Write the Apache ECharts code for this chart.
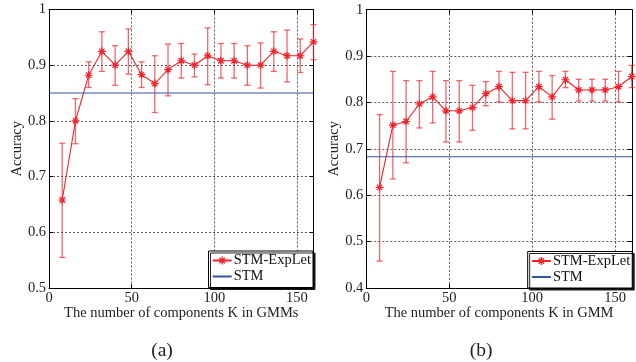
<!DOCTYPE html>
<html><head><meta charset="utf-8">
<script src="https://cdn.jsdelivr.net/npm/echarts@6/dist/echarts.min.js"></script>
<style>html,body{margin:0;padding:0;background:#fff}#c{width:636px;height:362px}</style>
</head><body><div id="c"></div>
<script>
// ---- data ----
const kValues = [8,16,24,32,40,48,56,64,72,80,88,96,104,112,120,128,136,144,152,160];
const accA     = [0.658,0.800,0.882,0.925,0.900,0.925,0.883,0.867,0.892,0.908,0.900,0.917,0.908,0.908,0.900,0.900,0.925,0.917,0.917,0.942];
const accA_lo  = [0.555,0.759,0.860,0.889,0.864,0.884,0.860,0.815,0.845,0.877,0.879,0.865,0.877,0.877,0.864,0.859,0.889,0.870,0.887,0.910];
const accA_hi  = [0.760,0.840,0.906,0.960,0.935,0.965,0.906,0.917,0.938,0.939,0.920,0.967,0.939,0.939,0.935,0.940,0.960,0.963,0.947,0.973];
const stmA = 0.85;
const accB     = [0.617,0.751,0.759,0.797,0.812,0.782,0.782,0.789,0.819,0.834,0.804,0.804,0.834,0.812,0.849,0.827,0.827,0.827,0.834,0.856];
const accB_lo  = [0.458,0.635,0.670,0.745,0.756,0.715,0.715,0.740,0.793,0.801,0.743,0.743,0.801,0.764,0.832,0.803,0.803,0.803,0.801,0.832];
const accB_hi  = [0.774,0.867,0.847,0.847,0.867,0.847,0.847,0.837,0.845,0.867,0.865,0.865,0.867,0.858,0.867,0.850,0.850,0.850,0.867,0.880];
const stmB = 0.683;
const xTitles = ['The number of components K in GMMs','The number of components K in GMM'];
const captions = ['(a)','(b)'];
const seriesNames = ['STM-ExpLet','STM'];

// ---- styling ----
const FONT = 'Liberation Serif';
const FS = 14.5;
const RED = '#f2232a';
const ERR = 'rgba(238,45,50,0.72)';
const BLUE = '#3553a8';
const STAR = 'path://M5,0L5,10M0,5L10,5M1.6,1.6L8.4,8.4M1.6,8.4L8.4,1.6';

const grids = [
  {left:49, top:9.5, width:264.5, height:278.5},
  {left:366.3, top:9.7, width:265.5, height:278.3}
];
const yRanges = [[0.5,1],[0.4,1]];

const xAxes = [], yAxes = [], series = [], legends = [], titles = [];
grids.forEach((g,i)=>{
  const base = {gridIndex:i, type:'value', min:0, max:160, interval:50};
  xAxes.push(Object.assign({}, base, {position:'bottom',
    axisLine:{show:true,onZero:false,lineStyle:{color:'#000',width:1}},
    axisTick:{show:true,inside:true,length:4,lineStyle:{color:'#000'}},
    axisLabel:{show:true,showMaxLabel:false,color:'#222',fontFamily:FONT,fontSize:FS,margin:3},
    splitLine:{show:true,lineStyle:{color:'#333',type:[2,2],width:0.8}},
    name:xTitles[i], nameLocation:'middle', nameGap:17.5, nameMoveOverlap:false,
    nameTextStyle:{color:'#222',fontFamily:FONT,fontSize:FS}}));
  xAxes.push(Object.assign({}, base, {position:'top',
    axisLine:{show:true,onZero:false,lineStyle:{color:'#000',width:1}},
    axisTick:{show:true,inside:true,length:4,lineStyle:{color:'#000'}},
    axisLabel:{show:false}, splitLine:{show:false}}));
  const ybase = {gridIndex:i, type:'value', min:yRanges[i][0], max:yRanges[i][1], interval:0.1};
  yAxes.push(Object.assign({}, ybase, {position:'left',
    axisLine:{show:true,onZero:false,lineStyle:{color:'#000',width:1}},
    axisTick:{show:true,inside:true,length:4,lineStyle:{color:'#000'}},
    axisLabel:{color:'#222',fontFamily:FONT,fontSize:FS,margin:3,
      formatter:v=> (Math.abs(v-1)<1e-9 ? '1' : v.toFixed(1))},
    splitLine:{show:true,lineStyle:{color:'#333',type:[2,2],width:0.8}},
    name:'Accuracy', nameLocation:'middle', nameGap:24.5, nameMoveOverlap:false,
    nameTextStyle:{color:'#222',fontFamily:FONT,fontSize:FS}}));
  yAxes.push(Object.assign({}, ybase, {position:'right',
    axisLine:{show:true,onZero:false,lineStyle:{color:'#000',width:1}},
    axisTick:{show:true,inside:true,length:4,lineStyle:{color:'#000'}},
    axisLabel:{show:false}, splitLine:{show:false}}));
});

const sets = [
  {mean:accA, lo:accA_lo, hi:accA_hi, stm:stmA},
  {mean:accB, lo:accB_lo, hi:accB_hi, stm:stmB}
];
sets.forEach((s,i)=>{
  const xi = i*2, yi = i*2;
  series.push({type:'custom', xAxisIndex:xi, yAxisIndex:yi, silent:true, z:3,
    data:kValues.map((k,j)=>[k, s.lo[j], s.hi[j]]),
    renderItem:(params, api)=>{
      const x = api.value(0);
      const p1 = api.coord([x, api.value(1)]);
      const p2 = api.coord([x, api.value(2)]);
      const w = 3;
      const st = {stroke:ERR, lineWidth:1.3};
      return {type:'group', children:[
        {type:'line', shape:{x1:p1[0],y1:p1[1],x2:p2[0],y2:p2[1]}, style:st},
        {type:'line', shape:{x1:p1[0]-w,y1:p1[1],x2:p1[0]+w,y2:p1[1]}, style:st},
        {type:'line', shape:{x1:p2[0]-w,y1:p2[1],x2:p2[0]+w,y2:p2[1]}, style:st}
      ]};
    }});
  series.push({type:'line', name:seriesNames[0], xAxisIndex:xi, yAxisIndex:yi, z:4,
    data:kValues.map((k,j)=>[k, s.mean[j]]),
    symbol:STAR, symbolSize:8, showSymbol:true, animation:false,
    lineStyle:{color:RED,width:1.1}, itemStyle:{color:RED,borderColor:RED,borderWidth:1.2}});
  series.push({type:'line', name:seriesNames[1], xAxisIndex:xi, yAxisIndex:yi, z:4,
    data:[[0,s.stm],[160,s.stm]], symbol:'none', animation:false,
    lineStyle:{color:BLUE,width:1.1}, itemStyle:{color:BLUE}});
});

const legendPos = [{left:208.5,top:251},{left:527.7,top:251.5}];
legendPos.forEach(p=>{
  legends.push({left:p.left, top:p.top, orient:'vertical',
    data:[
      {name:seriesNames[0], itemStyle:{color:RED,borderColor:RED,borderWidth:1.3}},
      {name:seriesNames[1], itemStyle:{color:'rgba(0,0,0,0)',borderColor:'rgba(0,0,0,0)',borderWidth:0}}
    ],
    itemWidth:19, itemHeight:10, itemGap:1, padding:[2,2,3.5,3.2],
    backgroundColor:'#fff', borderColor:'#000', borderWidth:1,
    shadowColor:'rgba(0,0,0,0.85)', shadowOffsetX:2, shadowOffsetY:2, shadowBlur:0,
    selectedMode:false,
    textStyle:{color:'#111',fontFamily:FONT,fontSize:FS,padding:[0,0,0,-3]}});
});
titles.push({text:captions[0], left:157, top:336, textAlign:'center',
  textStyle:{fontFamily:FONT,fontSize:19.5,fontWeight:'normal',color:'#222'}});
titles.push({text:captions[1], left:476, top:336, textAlign:'center',
  textStyle:{fontFamily:FONT,fontSize:19.5,fontWeight:'normal',color:'#222'}});

const chart = echarts.init(document.getElementById('c'), null, {renderer:'canvas'});
chart.setOption({animation:false, backgroundColor:'#fff', title:titles, legend:legends,
  grid:grids, xAxis:xAxes, yAxis:yAxes, series:series});
</script></body></html>
